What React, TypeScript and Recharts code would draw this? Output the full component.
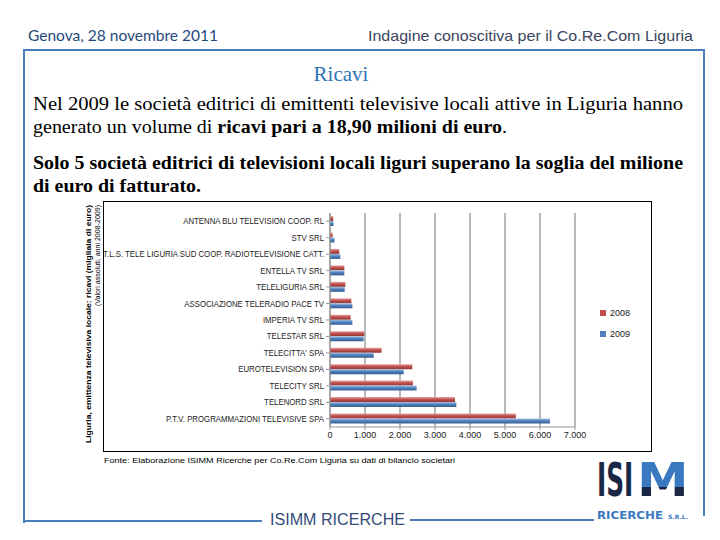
import React from 'react';
import { BarChart, Bar, XAxis, YAxis, CartesianGrid, Legend } from 'recharts';

const companies = [
  'ANTENNA BLU TELEVISION COOP. RL',
  'STV SRL',
  'T.L.S. TELE LIGURIA SUD COOP. RADIOTELEVISIONE CATT.',
  'ENTELLA TV SRL',
  'TELELIGURIA SRL',
  'ASSOCIAZIONE TELERADIO PACE TV',
  'IMPERIA TV SRL',
  'TELESTAR SRL',
  "TELECITTA' SPA",
  'EUROTELEVISION SPA',
  'TELECITY SRL',
  'TELENORD SRL',
  'P.T.V. PROGRAMMAZIONI TELEVISIVE SPA',
];
const ricavi2008 = [90, 75, 265, 410, 440, 610, 590, 980, 1475, 2350, 2370, 3570, 5310];
const ricavi2009 = [100, 130, 295, 410, 420, 640, 640, 960, 1250, 2105, 2475, 3610, 6285];
const xTicks = [0, 1000, 2000, 3000, 4000, 5000, 6000, 7000];
const seriesNames = ['2008', '2009'];
const seriesColors = ['#C0504D', '#4F81BD'];

const data = companies.map((name, i) => ({ name, v2008: ricavi2008[i], v2009: ricavi2009[i] }));

const fmt = (n: number) =>
  n >= 1000 ? `${Math.floor(n / 1000)}.${String(n % 1000).padStart(3, '0')}` : String(n);

const CatTick = (props: any) => {
  const { x, y, payload } = props;
  return (
    <g transform={`translate(${x},${y})`}>
      <text
        transform="scale(0.92,1)"
        textAnchor="end"
        dy={3}
        fontSize={8.5}
        fontFamily="Liberation Sans, Arial, sans-serif"
        fill="#222"
      >
        {payload.value}
      </text>
    </g>
  );
};

const LegendContent = (props: any) => {
  const { payload } = props;
  return (
    <div style={{ fontFamily: 'Liberation Sans, Arial, sans-serif', fontSize: 9, color: '#222' }}>
      {(payload || []).map((p: any, i: number) => (
        <div key={i} style={{ display: 'flex', alignItems: 'center', height: 21 }}>
          <span
            style={{ display: 'inline-block', width: 6, height: 6, background: seriesColors[i], marginRight: 4 }}
          />
          <span>{p.value}</span>
        </div>
      ))}
    </div>
  );
};

export default function App() {
  const blue = '#4A7EBB';
  const navy = '#1B2845';
  const logoBlue = '#3A78C0';
  const logoFont = 'DejaVu Sans, Liberation Sans, sans-serif';
  return (
    <div style={{ position: 'absolute', left: 0, top: 0, width: 720, height: 540, background: '#fff', overflow: 'hidden' }}>
      <svg width={720} height={540} style={{ position: 'absolute', left: 0, top: 0 }}>
        <defs>
          <linearGradient id="logoM" x1="0" y1="0" x2="0" y2="1">
            <stop offset="0%" stopColor={logoBlue} />
            <stop offset="62%" stopColor={logoBlue} />
            <stop offset="62%" stopColor={navy} />
            <stop offset="100%" stopColor={navy} />
          </linearGradient>
        </defs>
        {/* frame */}
        <line x1={23} y1={50} x2={705} y2={50} stroke={blue} strokeWidth={2} />
        <line x1={24} y1={49} x2={24} y2={523} stroke={blue} strokeWidth={2} />
        <line x1={704} y1={49} x2={704} y2={516} stroke={blue} strokeWidth={2} />
        <line x1={24} y1={521} x2={262} y2={521} stroke={blue} strokeWidth={2} />
        <line x1={410} y1={520} x2={594} y2={520} stroke={blue} strokeWidth={2} />

        {/* header */}
        <text x={28} y={41} fontFamily="Lato, Open Sans, sans-serif" fontSize={15} fill="#1F497D" textLength={190} lengthAdjust="spacingAndGlyphs">
          Genova, 28 novembre 2011
        </text>
        <text x={368} y={41} fontFamily="Liberation Sans, Arial, sans-serif" fontSize={15} fill="#3A4560" textLength={325} lengthAdjust="spacingAndGlyphs">
          Indagine conoscitiva per il Co.Re.Com Liguria
        </text>

        {/* title */}
        <text x={341} y={81} textAnchor="middle" fontFamily="Liberation Serif, Times New Roman, serif" fontSize={21} fill="#2E74B5">
          Ricavi
        </text>

        {/* paragraphs */}
        <text x={33} y={110} fontFamily="Liberation Serif, Times New Roman, serif" fontSize={19} fill="#000" textLength={650} lengthAdjust="spacingAndGlyphs">
          Nel 2009 le società editrici di emittenti televisive locali attive in Liguria hanno
        </text>
        <text x={33} y={133} fontFamily="Liberation Serif, Times New Roman, serif" fontSize={19} fill="#000" textLength={474} lengthAdjust="spacingAndGlyphs">
          generato un volume di <tspan fontWeight="bold">ricavi pari a 18,90 milioni di euro</tspan>.
        </text>
        <text x={33} y={169} fontFamily="Liberation Serif, Times New Roman, serif" fontSize={19} fontWeight="bold" fill="#000" textLength={650} lengthAdjust="spacingAndGlyphs">
          Solo 5 società editrici di televisioni locali liguri superano la soglia del milione
        </text>
        <text x={33} y={192} fontFamily="Liberation Serif, Times New Roman, serif" fontSize={19} fontWeight="bold" fill="#000" textLength={168} lengthAdjust="spacingAndGlyphs">
          di euro di fatturato.
        </text>

        {/* vertical axis title */}
        <g transform="translate(91,205) rotate(-90)">
          <text x={0} y={0} textAnchor="end" fontFamily="Liberation Sans, Arial, sans-serif" fontSize={7.5} fontWeight="bold" fill="#000" textLength={238} lengthAdjust="spacingAndGlyphs">
            Liguria, emittenza televisiva locale: ricavi (migliaia di euro)
          </text>
        </g>
        <g transform="translate(100,205) rotate(-90)">
          <text x={0} y={0} textAnchor="end" fontFamily="Liberation Sans, Arial, sans-serif" fontSize={8} fill="#000" textLength={101} lengthAdjust="spacingAndGlyphs">
            (Valori assoluti, anni 2008-2009)
          </text>
        </g>

        {/* source */}
        <text x={104} y={463} fontFamily="Liberation Sans, Arial, sans-serif" fontSize={7.5} fill="#000" textLength={351} lengthAdjust="spacingAndGlyphs">
          Fonte: Elaborazione ISIMM Ricerche per Co.Re.Com Liguria su dati di bilancio societari
        </text>

        {/* bottom label */}
        <text x={270} y={525} fontFamily="Liberation Sans, Arial, sans-serif" fontSize={16} fill="#334B78" textLength={135} lengthAdjust="spacingAndGlyphs">
          ISIMM RICERCHE
        </text>

        {/* logo */}
        <g transform="translate(597,496) scale(0.54,1)">
          <text x={0} y={0} fontFamily={logoFont} fontWeight="bold" fontSize={46} fill={navy}>ISI</text>
        </g>
        <g transform="translate(637,496) scale(1.13,1)">
          <text x={0} y={0} fontFamily={logoFont} fontWeight="bold" fontSize={46} fill="url(#logoM)">M</text>
        </g>
        <text x={597} y={519} fontFamily={logoFont} fontWeight="bold" fontSize={10} fill={logoBlue} textLength={66} lengthAdjust="spacingAndGlyphs">
          RICERCHE
        </text>
        <text x={668} y={519} fontFamily={logoFont} fontWeight="bold" fontSize={6} fill={logoBlue} textLength={20} lengthAdjust="spacingAndGlyphs">
          S.R.L.
        </text>
      </svg>

      <div
        style={{
          position: 'absolute',
          left: 103,
          top: 201,
          width: 549,
          height: 251,
          border: '1px solid #000',
          boxSizing: 'border-box',
          background: '#fff',
        }}
      >
        <BarChart
          width={547}
          height={249}
          data={data}
          layout="vertical"
          margin={{ top: 11, right: 76, bottom: 2, left: 0 }}
          barGap={0}
          barSize={5}
        >
          <defs>
            <linearGradient id="gRed" x1="0" y1="0" x2="0" y2="1">
              <stop offset="0%" stopColor="#E6A6A4" />
              <stop offset="45%" stopColor="#C0504D" />
              <stop offset="100%" stopColor="#943634" />
            </linearGradient>
            <linearGradient id="gBlue" x1="0" y1="0" x2="0" y2="1">
              <stop offset="0%" stopColor="#A7C2E4" />
              <stop offset="45%" stopColor="#4F81BD" />
              <stop offset="100%" stopColor="#365F91" />
            </linearGradient>
          </defs>
          <CartesianGrid horizontal={false} stroke="#a0a0a0" strokeWidth={1.5} />
          <XAxis
            type="number"
            domain={[0, 7000]}
            ticks={xTicks}
            tickFormatter={fmt}
            tickSize={3}
            tick={{ fontSize: 9, fill: '#222', fontFamily: 'Liberation Sans, Arial, sans-serif' }}
            stroke="#999"
            height={22}
            interval={0}
          />
          <YAxis
            type="category"
            dataKey="name"
            width={226}
            tick={<CatTick />}
            tickSize={4}
            tickMargin={2}
            stroke="#999"
            interval={0}
          />
          <Legend
            layout="vertical"
            align="center"
            verticalAlign="middle"
            content={<LegendContent />}
            wrapperStyle={{ position: 'absolute', left: 496, top: 100, width: 50 }}
          />
          <Bar dataKey="v2008" name={seriesNames[0]} fill="url(#gRed)" isAnimationActive={false} />
          <Bar dataKey="v2009" name={seriesNames[1]} fill="url(#gBlue)" isAnimationActive={false} />
        </BarChart>
      </div>
    </div>
  );
}
